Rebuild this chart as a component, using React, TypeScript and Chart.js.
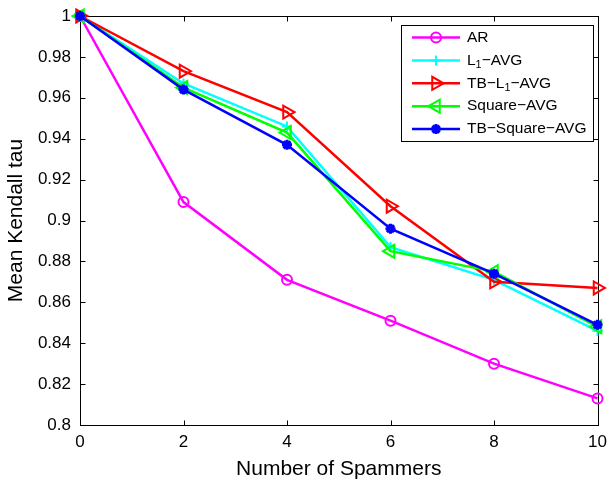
import React, { useEffect, useRef } from 'react';
import { Chart, registerables } from 'chart.js';

Chart.register(...registerables);

const FONT = '"Liberation Sans", Arial, Helvetica, sans-serif';

const xValues = [0, 2, 4, 6, 8, 10];
const arValues = [1, 0.909, 0.871, 0.851, 0.830, 0.813];
const l1AvgValues = [1, 0.967, 0.946, 0.887, 0.871, 0.846];
const tbL1AvgValues = [1, 0.973, 0.953, 0.907, 0.870, 0.867];
const squareAvgValues = [1, 0.965, 0.943, 0.885, 0.875, 0.848];
const tbSquareAvgValues = [1, 0.964, 0.937, 0.896, 0.874, 0.849];

const xTitle = 'Number of Spammers';
const yTitle = 'Mean Kendall tau';

type Part = { t: string; sub?: boolean };
const legendLabels: Part[][] = [
  [{ t: 'AR' }],
  [{ t: 'L' }, { t: '1', sub: true }, { t: '\u2212AVG' }],
  [{ t: 'TB\u2212L' }, { t: '1', sub: true }, { t: '\u2212AVG' }],
  [{ t: 'Square\u2212AVG' }],
  [{ t: 'TB\u2212Square\u2212AVG' }],
];

const seriesStyles = [
  { color: '#ff00ff', style: 'circle', rot: 0, radius: 5, bw: 2 },
  { color: '#00ffff', style: 'cross', rot: 0, radius: 5, bw: 2 },
  { color: '#ff0000', style: 'triangle', rot: 90, radius: 7.5, bw: 2 },
  { color: '#00ff00', style: 'triangle', rot: -90, radius: 7.5, bw: 2 },
  { color: '#0000ff', style: 'star', rot: 0, radius: 5, bw: 3 },
];

function drawMarker(ctx: CanvasRenderingContext2D, s: any, x: number, y: number) {
  ctx.save();
  ctx.strokeStyle = s.color;
  ctx.fillStyle = s.color;
  ctx.lineWidth = s.bw;
  const r = s.radius;
  ctx.beginPath();
  if (s.style === 'circle') {
    ctx.arc(x, y, r, 0, Math.PI * 2);
  } else if (s.style === 'cross') {
    ctx.moveTo(x - r, y); ctx.lineTo(x + r, y);
    ctx.moveTo(x, y - r); ctx.lineTo(x, y + r);
  } else if (s.style === 'triangle') {
    let rad = (s.rot * Math.PI) / 180;
    ctx.moveTo(x + Math.sin(rad) * r, y - Math.cos(rad) * r);
    rad += (2 * Math.PI) / 3;
    ctx.lineTo(x + Math.sin(rad) * r, y - Math.cos(rad) * r);
    rad += (2 * Math.PI) / 3;
    ctx.lineTo(x + Math.sin(rad) * r, y - Math.cos(rad) * r);
    ctx.closePath();
  } else if (s.style === 'star') {
    ctx.moveTo(x - r, y); ctx.lineTo(x + r, y);
    ctx.moveTo(x, y - r); ctx.lineTo(x, y + r);
    const d = r * Math.SQRT1_2;
    ctx.moveTo(x - d, y - d); ctx.lineTo(x + d, y + d);
    ctx.moveTo(x - d, y + d); ctx.lineTo(x + d, y - d);
  }
  ctx.stroke();
  ctx.restore();
}

const framePlugin = {
  id: 'matlabFrame',
  beforeDatasetsDraw(chart: any) {
    const { ctx, chartArea, scales } = chart;
    const l = Math.round(chartArea.left) + 0.5;
    const r = Math.round(chartArea.right) + 0.5;
    const t = Math.round(chartArea.top) + 0.5;
    const b = Math.round(chartArea.bottom) + 0.5;
    ctx.save();
    ctx.strokeStyle = '#000';
    ctx.lineWidth = 1;
    ctx.strokeRect(l, t, r - l, b - t);
    const tl = 5;
    ctx.beginPath();
    scales.x.ticks.forEach((tk: any) => {
      const px = Math.round(scales.x.getPixelForValue(tk.value)) + 0.5;
      ctx.moveTo(px, b); ctx.lineTo(px, b - tl);
      ctx.moveTo(px, t); ctx.lineTo(px, t + tl);
    });
    scales.y.ticks.forEach((tk: any) => {
      const py = Math.round(scales.y.getPixelForValue(tk.value)) + 0.5;
      ctx.moveTo(l, py); ctx.lineTo(l + tl, py);
      ctx.moveTo(r, py); ctx.lineTo(r - tl, py);
    });
    ctx.stroke();
    ctx.restore();
  },
};

const legendPlugin = {
  id: 'matlabLegend',
  afterDraw(chart: any) {
    const { ctx } = chart;
    const bx = 401.5, by = 25.5, bw = 192, bh = 116;
    ctx.save();
    ctx.fillStyle = '#fff';
    ctx.fillRect(bx, by, bw, bh);
    ctx.strokeStyle = '#000';
    ctx.lineWidth = 1;
    ctx.strokeRect(bx, by, bw, bh);
    const fs = 15.5;
    legendLabels.forEach((parts, i) => {
      const y = 37.5 + i * 22.9;
      const s = seriesStyles[i];
      ctx.strokeStyle = s.color;
      ctx.lineWidth = 2.5;
      ctx.beginPath();
      ctx.moveTo(412, y);
      ctx.lineTo(460, y);
      ctx.stroke();
      drawMarker(ctx, s, 436, y);
      let tx = 467;
      ctx.fillStyle = '#000';
      ctx.textAlign = 'left';
      ctx.textBaseline = 'middle';
      parts.forEach((p) => {
        if (p.sub) {
          ctx.font = `${fs * 0.7}px ${FONT}`;
          ctx.fillText(p.t, tx, y + 5);
        } else {
          ctx.font = `${fs}px ${FONT}`;
          ctx.fillText(p.t, tx, y);
        }
        tx += ctx.measureText(p.t).width;
      });
    });
    ctx.restore();
  },
};

const seriesValues = [arValues, l1AvgValues, tbL1AvgValues, squareAvgValues, tbSquareAvgValues];
const seriesNames = ['AR', 'L1-AVG', 'TB-L1-AVG', 'Square-AVG', 'TB-Square-AVG'];

export default function App() {
  const ref = useRef<HTMLCanvasElement | null>(null);
  useEffect(() => {
    document.body.style.margin = '0';
    const canvas = ref.current!;
    const datasets = seriesValues.map((vals, i) => {
      const s = seriesStyles[i];
      return {
        label: seriesNames[i],
        data: vals.map((v, j) => ({ x: xValues[j], y: v })),
        borderColor: s.color,
        backgroundColor: 'rgba(0,0,0,0)',
        borderWidth: 2.5,
        pointStyle: s.style,
        pointRotation: s.rot,
        pointRadius: s.radius,
        pointBorderWidth: s.bw,
        pointBorderColor: s.color,
        pointBackgroundColor: 'rgba(0,0,0,0)',
        tension: 0,
        clip: false,
        order: 5 - i,
      };
    });
    const chart = new Chart(canvas, {
      type: 'line',
      data: { datasets } as any,
      options: {
        animation: false,
        responsive: false,
        devicePixelRatio: 1,
        layout: { padding: { top: 16, right: 9, left: 0, bottom: 0 } },
        plugins: { legend: { display: false }, tooltip: { enabled: false } },
        scales: {
          x: {
            type: 'linear',
            min: 0,
            max: 10,
            ticks: { stepSize: 2, color: '#000', padding: 7, maxRotation: 0, font: { size: 17, family: FONT } },
            grid: { display: false, drawTicks: false, tickLength: 0 },
            border: { display: false },
            title: { display: true, text: xTitle, color: '#000', font: { size: 21, family: FONT }, padding: { top: 0, bottom: 1 } },
            afterFit: (s: any) => { s.height = 58; s.paddingLeft = 0; s.paddingRight = 0; },
          },
          y: {
            type: 'linear',
            min: 0.8,
            max: 1,
            ticks: {
              stepSize: 0.02,
              color: '#000',
              padding: 9,
              font: { size: 17, family: FONT },
              callback: (v: any) => String(+Number(v).toFixed(2)),
            },
            grid: { display: false, drawTicks: false, tickLength: 0 },
            border: { display: false },
            title: { display: true, text: yTitle, color: '#000', font: { size: 21, family: FONT }, padding: { top: 4, bottom: 0 } },
            afterFit: (s: any) => { s.width = 80; s.paddingTop = 0; s.paddingBottom = 0; },
          },
        },
      } as any,
      plugins: [framePlugin, legendPlugin],
    });
    return () => chart.destroy();
  }, []);
  return (
    <div style={{ position: 'absolute', left: 0, top: 0, width: 607, height: 483 }}>
      <canvas ref={ref} width={607} height={483} style={{ display: 'block' }} />
    </div>
  );
}
